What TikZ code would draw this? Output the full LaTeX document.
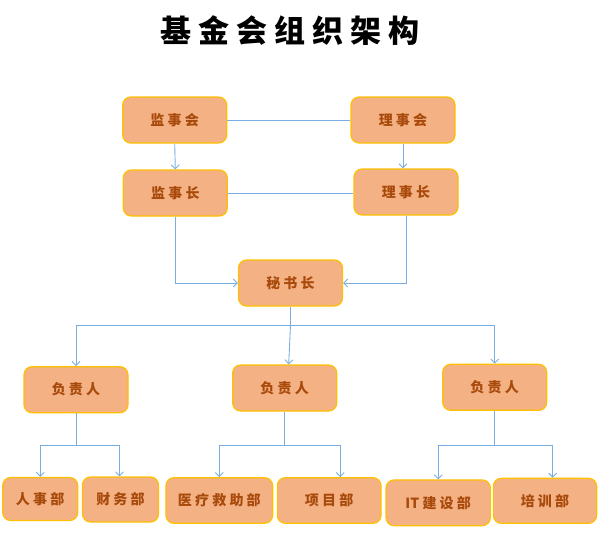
\documentclass[tikz,border=0pt]{standalone}
\usepackage{fontspec}
\setmainfont{Noto Sans CJK SC}
\usetikzlibrary{arrows.meta}
\definecolor{boxfill}{HTML}{F4B183}
\definecolor{boxline}{HTML}{FFC000}
\definecolor{boxtext}{HTML}{A84A0C}
\definecolor{linkcol}{HTML}{7AAEE2}
\tikzset{
  unitbox/.style={draw=boxline, fill=boxfill, line width=1.2pt, rounded corners=8pt,
    minimum width=104pt, minimum height=46pt, inner sep=0pt, text=boxtext,
    font=\fontsize{14}{16}\selectfont\bfseries},
  link/.style={draw=linkcol, line width=0.9pt},
  linkarr/.style={link, -{Straight Barb[length=4pt,width=8pt]}}
}
\begin{document}
\begin{tikzpicture}[x=1pt, y=-1pt]
\useasboundingbox (0,0) rectangle (600,533);
\node[font=\fontsize{31}{34}\selectfont\bfseries] (title) at (290,31) {基 金 会 组 织 架 构};
\node[unitbox] (jsh) at (174.7,120) {监 事 会};
\node[unitbox] (lsh) at (403,120) {理 事 会};
\node[unitbox] (jsz) at (175.3,193) {监 事 长};
\node[unitbox] (lsz) at (406,192) {理 事 长};
\node[unitbox] (msz) at (290.5,283) {秘 书 长};
\node[unitbox] (fz1) at (76,389.7) {负 责 人};
\node[unitbox] (fz2) at (284.7,388) {负 责 人};
\node[unitbox] (fz3) at (494.7,387.3) {负 责 人};
\node[unitbox, minimum width=75pt, minimum height=43pt] (rsb) at (40.2,499) {人 事 部};
\node[unitbox, minimum width=76pt, minimum height=45pt] (cwb) at (120.5,499.5) {财 务 部};
\node[unitbox, minimum width=106.7pt, minimum height=45.6pt] (ylb) at (219.3,500.5) {医 疗 救 助 部};
\node[unitbox, minimum width=103.7pt, minimum height=45.6pt] (xmb) at (329.2,500.5) {项 目 部};
\node[unitbox, minimum width=104.3pt, minimum height=45.7pt] (itb) at (438.2,502.8) {IT 建 设 部};
\node[unitbox, minimum width=103.3pt, minimum height=45pt] (pxb) at (545,500.8) {培 训 部};
\coordinate (t1) at (290.5,325);
\coordinate (b1) at (76,445);
\coordinate (b2) at (284.7,445.7);
\coordinate (b3) at (494.7,445);
\draw[link] (jsh.east) -- (lsh.west);
\draw[link] (jsz.east) -- (jsz.east -| lsz.west);
\draw[linkarr] (jsh.south) -- (jsz.north);
\draw[linkarr] (lsh.south) -- (lsh.south |- lsz.north);
\draw[linkarr] (jsz.south) |- (msz.west);
\draw[linkarr] (lsz.south) |- (msz.east);
\draw[link] (msz.south) -- (t1);
\draw[linkarr] (t1) -| (fz1.north);
\draw[linkarr] (t1) -| (fz3.north);
\draw[linkarr] (t1) -- ([xshift=4pt]fz2.north);
\draw[link] (fz1.south) -- (b1);
\draw[linkarr] (b1) -| (rsb.north);
\draw[linkarr] (b1) -| ([xshift=-1pt]cwb.north);
\draw[link] (fz2.south) -- (b2);
\draw[linkarr] (b2) -| (ylb.north);
\draw[linkarr] (b2) -| ([xshift=11pt]xmb.north);
\draw[link] (fz3.south) -- (b3);
\draw[linkarr] (b3) -| (itb.north);
\draw[linkarr] (b3) -| ([xshift=7.7pt]pxb.north);
\end{tikzpicture}
\end{document}
